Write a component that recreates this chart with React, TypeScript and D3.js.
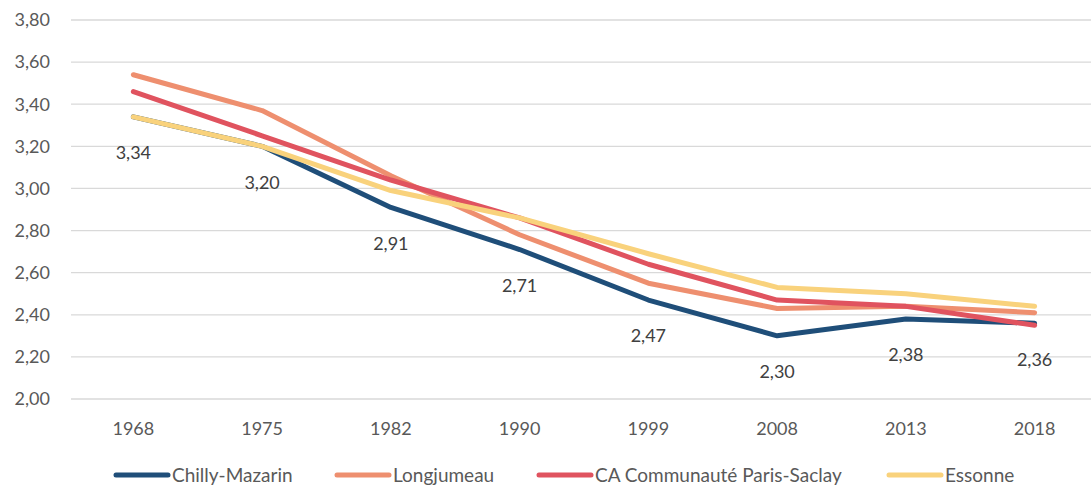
import React, { useEffect, useRef } from "react";
import * as d3 from "d3";

const years = ["1968", "1975", "1982", "1990", "1999", "2008", "2013", "2018"];
const chillyMazarin = [3.34, 3.2, 2.91, 2.71, 2.47, 2.3, 2.38, 2.36];
const longjumeau = [3.54, 3.37, 3.06, 2.78, 2.55, 2.43, 2.44, 2.41];
const parisSaclay = [3.46, 3.25, 3.04, 2.86, 2.64, 2.47, 2.44, 2.35];
const essonne = [3.34, 3.2, 2.99, 2.86, 2.69, 2.53, 2.5, 2.44];
const yTicks = [2.0, 2.2, 2.4, 2.6, 2.8, 3.0, 3.2, 3.4, 3.6, 3.8];

const series = [
  { name: "Chilly-Mazarin", values: chillyMazarin, color: "#1F4E79" },
  { name: "Longjumeau", values: longjumeau, color: "#EE8F6F" },
  { name: "CA Communauté Paris-Saclay", values: parisSaclay, color: "#E0535F" },
  { name: "Essonne", values: essonne, color: "#F9D27C" },
];

const W = 1091;
const H = 487;
const FONT = "Lato, 'Open Sans', sans-serif";
const fmt = (v: number) => v.toFixed(2).replace(".", ",");

export default function App() {
  const ref = useRef<SVGSVGElement>(null);

  useEffect(() => {
    const svg = d3.select(ref.current);
    svg.selectAll("*").remove();

    const x = d3.scaleBand().domain(years).range([69, 1099]);
    const y = d3.scaleLinear().domain([2, 3.8]).range([399, 20]);
    const cx = (d: string) => (x(d) ?? 0) + x.bandwidth() / 2;

    // gridlines
    svg
      .append("g")
      .selectAll("line")
      .data(yTicks)
      .join("line")
      .attr("x1", 71)
      .attr("x2", W)
      .attr("y1", (d) => y(d))
      .attr("y2", (d) => y(d))
      .attr("stroke", "#D9D9D9")
      .attr("stroke-width", 1.3);

    // y labels
    svg
      .append("g")
      .selectAll("text")
      .data(yTicks)
      .join("text")
      .attr("x", 50)
      .attr("y", (d) => y(d))
      .attr("dy", "0.35em")
      .attr("text-anchor", "end")
      .attr("font-family", FONT)
      .attr("font-size", 18)
      .attr("fill", "#595959")
      .text(fmt);

    // x labels
    svg
      .append("g")
      .selectAll("text")
      .data(years)
      .join("text")
      .attr("x", cx)
      .attr("y", 429)
      .attr("dy", "0.35em")
      .attr("text-anchor", "middle")
      .attr("font-family", FONT)
      .attr("font-size", 18)
      .attr("fill", "#595959")
      .text((d) => d);

    const line = d3
      .line<number>()
      .x((_, i) => cx(years[i]))
      .y((d) => y(d));

    series.forEach((s) => {
      svg
        .append("path")
        .datum(s.values)
        .attr("d", line)
        .attr("fill", "none")
        .attr("stroke", s.color)
        .attr("stroke-width", 5)
        .attr("stroke-linecap", "round")
        .attr("stroke-linejoin", "round");
    });

    // data labels for Chilly-Mazarin
    svg
      .append("g")
      .selectAll("text")
      .data(chillyMazarin)
      .join("text")
      .attr("x", (_, i) => cx(years[i]))
      .attr("y", (d) => y(d) + 36)
      .attr("dy", "0.35em")
      .attr("text-anchor", "middle")
      .attr("font-family", FONT)
      .attr("font-size", 18)
      .attr("fill", "#404040")
      .text(fmt);

    // legend
    const legendX = [114, 335, 537, 887];
    const lg = svg
      .append("g")
      .selectAll("g")
      .data(series)
      .join("g")
      .attr("transform", (_, i) => `translate(${legendX[i]},475)`);
    lg.append("line")
      .attr("x1", 2)
      .attr("x2", 54)
      .attr("stroke", (d) => d.color)
      .attr("stroke-width", 5)
      .attr("stroke-linecap", "round");
    lg.append("text")
      .attr("x", 58)
      .attr("dy", "0.35em")
      .attr("font-family", FONT)
      .attr("font-size", 19)
      .attr("fill", "#595959")
      .text((d) => d.name);
  }, []);

  return (
    <div style={{ position: "absolute", left: 0, top: 0 }}>
      <svg ref={ref} width={W} height={H} style={{ display: "block", background: "#fff" }} />
    </div>
  );
}
